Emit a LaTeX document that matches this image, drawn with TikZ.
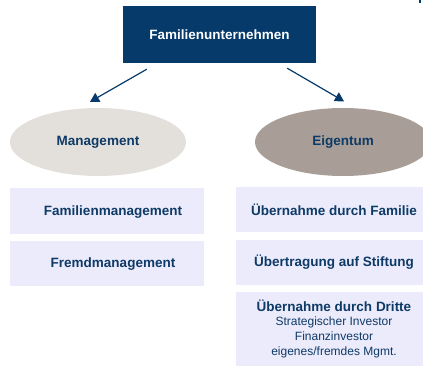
\documentclass[tikz,border=0pt]{standalone}
\usepackage{fontspec}
\setmainfont{Liberation Sans}
\usetikzlibrary{arrows.meta,shapes.geometric}
\definecolor{navy}{RGB}{5,58,106}
\definecolor{inknavy}{RGB}{14,58,102}
\definecolor{lavender}{RGB}{236,235,252}
\definecolor{sand}{RGB}{227,224,219}
\definecolor{taupe}{RGB}{168,158,151}
\newcommand{\smalltxt}{\fontsize{12}{13}\mdseries\selectfont}
\begin{document}
\begin{tikzpicture}[x=1pt,y=1pt,
    head/.style={font=\fontsize{13.5}{15}\selectfont\bfseries,text=inknavy},
    oval/.style={ellipse,minimum width=176pt,minimum height=68pt,inner sep=0pt},
    tile/.style={rectangle,fill=lavender,minimum height=45pt,inner sep=0pt},
    arr/.style={navy,line width=1.2pt,-{Triangle[length=9pt,width=10pt]}}]
      \clip (0,0) rectangle (423,370);
      \fill[white] (0,0) rectangle (423,370);
      \fill[navy] (419,367) rectangle (421,370);
      \node[rectangle,fill=navy,minimum width=193pt,minimum height=57pt,
            head,text=white] (firm) at (219.5,335.5) {Familienunternehmen};
      \node[oval,fill=sand,head] (mgmt) at (98,228) {Management};
      \node[oval,fill=taupe,head] (owner) at (343,228) {Eigentum};
      \draw[arr] ([xshift=24pt,yshift=-6pt]firm.south west) -- ([xshift=-8pt,yshift=6pt]mgmt.north);
      \draw[arr] ([xshift=-29pt,yshift=-5pt]firm.south east) -- ([xshift=1pt,yshift=6.5pt]owner.north);
      \node[tile,minimum width=194pt] (fammgmt) at (107,159) {};
      \node[head] (fammgmtlbl) at ([xshift=6pt,yshift=-1pt]fammgmt.center) {Familienmanagement};
      \node[tile,minimum width=194pt] (extmgmt) at (107,106.5) {};
      \node[head] (extmgmtlbl) at ([xshift=6pt,yshift=-1pt]extmgmt.center) {Fremdmanagement};
      \node[tile,minimum width=196pt,head] (famtake) at (334,160.5) {Übernahme durch Familie};
      \node[tile,minimum width=196pt,head] (found) at (334,107.5) {Übertragung auf Stiftung};
      \node[tile,minimum width=196pt,minimum height=74pt,align=center,head] (third) at (334,41)
          {Übernahme durch Dritte\\[-1pt]
           \smalltxt Strategischer Investor\\
           \smalltxt Finanzinvestor\\
           \smalltxt eigenes/fremdes Mgmt.};
\end{tikzpicture}
\end{document}
